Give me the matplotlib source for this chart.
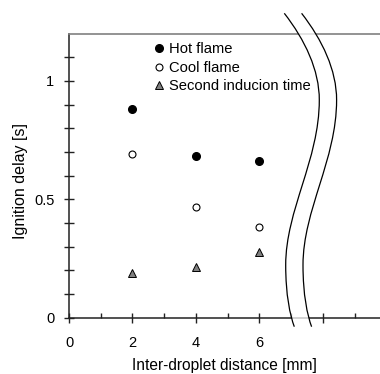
import numpy as np
import matplotlib
matplotlib.use('Agg')
import matplotlib.pyplot as plt
from matplotlib.path import Path
from matplotlib.patches import PathPatch
from matplotlib.ticker import FixedLocator, FuncFormatter

plt.rcParams['font.family'] = ['Liberation Sans', 'DejaVu Sans']

# data
distance = [2, 4, 6]
hot_flame = [0.882, 0.683, 0.662]
cool_flame = [0.693, 0.467, 0.382]
second_induction = [0.188, 0.216, 0.279]

x_labels = {0: '0', 2: '2', 4: '4', 6: '6'}

W, H = 380, 374
fig = plt.figure(figsize=(W / 100, H / 100), dpi=100)
ax = fig.add_axes([69 / W, 1 - 317.7 / H, 1 - 69 / W, (317.7 - 33.5) / H])

ax.plot(distance, hot_flame, 'o', color='black', markersize=5.5, label='Hot flame')
ax.plot(distance, cool_flame, 'o', mfc='white', mec='black', mew=0.8, markersize=5, label='Cool flame')
ax.plot(distance, second_induction, '^', mfc='#808080', mec='black', mew=0.7, markersize=6,
        label='Second inducion time')

ax.set_xlim(0, 9.8)
ax.set_ylim(0, 1.2)

# ticks
ax.xaxis.set_major_locator(FixedLocator([0, 2, 4, 6, 8]))
ax.xaxis.set_minor_locator(FixedLocator([1, 3, 5, 7, 9]))
ax.xaxis.set_major_formatter(FuncFormatter(lambda v, p: x_labels.get(int(round(v)), '')))
ax.yaxis.set_major_locator(FixedLocator([0, 0.5, 1]))
ax.yaxis.set_minor_locator(FixedLocator([0.1, 0.2, 0.3, 0.4, 0.6, 0.7, 0.8, 0.9, 1.1]))
ax.yaxis.set_major_formatter(FuncFormatter(lambda v, p: '%g' % v))

ax.tick_params(axis='x', which='major', direction='inout', length=7, width=1, color='#222222',
               labelsize=10.5, pad=9.5)
ax.tick_params(axis='x', which='minor', direction='in', length=3.5, width=1, color='#222222')
ax.tick_params(axis='y', which='both', direction='inout', length=7, width=1, color='#222222',
               labelsize=10.5, pad=7)

for s in ['left', 'bottom']:
    ax.spines[s].set_color('#222222')
    ax.spines[s].set_linewidth(1.1)
ax.spines['top'].set_color('#808080')
ax.spines['top'].set_linewidth(1.2)
ax.spines['right'].set_visible(False)

ax.set_xlabel('Inter-droplet distance [mm]', fontsize=11.2, labelpad=6)
ax.set_ylabel('Ignition delay [s]', fontsize=11.5)
ax.yaxis.set_label_coords(-0.132, 0.481)

leg = ax.legend(loc='upper left', bbox_to_anchor=(153 / W, 1 - 42 / H), bbox_transform=fig.transFigure,
                frameon=False, fontsize=10.6, handlelength=0.8, handletextpad=0.3,
                labelspacing=0.32, borderpad=0, borderaxespad=0)

# axis break curves, cubic bezier in pixel coords
curve = np.array([(284.3, 13.3), (305, 40), (319.3, 70), (319.3, 100),
                  (319.3, 160), (285.7, 210), (285.7, 265),
                  (285.7, 295), (290, 315), (294.3, 326.7)])
gap = 17.3


def to_fig(v):
    return np.column_stack([v[:, 0] / W, 1 - v[:, 1] / H])


left = to_fig(curve)
right = to_fig(curve + np.array([gap, 0]))
nseg = (len(curve) - 1)
codes_c = [Path.MOVETO] + [Path.CURVE4] * nseg

fill_v = np.vstack([left, right[::-1], left[:1]])
fill_c = codes_c + [Path.LINETO] + [Path.CURVE4] * nseg + [Path.CLOSEPOLY]
fig.add_artist(PathPatch(Path(fill_v, fill_c), facecolor='white', edgecolor='none', alpha=0.75,
                         transform=fig.transFigure, zorder=5))
for v in (left, right):
    fig.add_artist(PathPatch(Path(v, codes_c), facecolor='none', edgecolor='black', lw=0.9,
                             transform=fig.transFigure, zorder=6))

fig.savefig('out.png', dpi=100)
